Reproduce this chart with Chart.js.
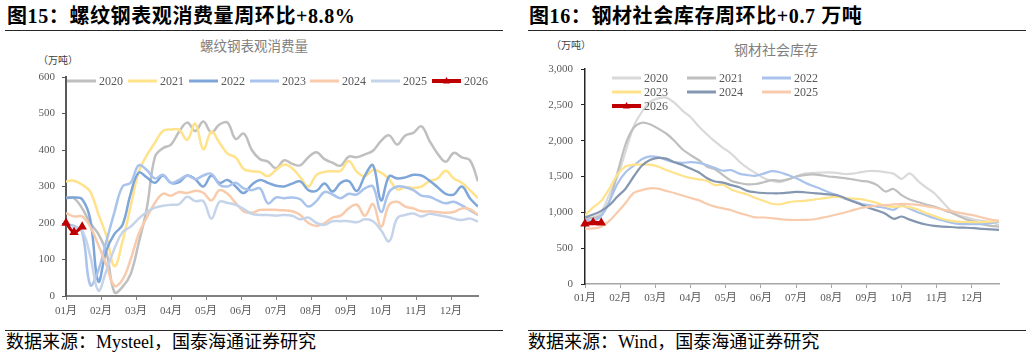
<!DOCTYPE html>
<html lang="zh">
<head>
<meta charset="UTF-8">
<title>螺纹钢表观消费量 / 钢材社会库存</title>
<script src="https://cdn.jsdelivr.net/npm/chart.js"></script>
<style>
  body { margin: 0; background: #fff; width: 1032px; height: 358px; overflow: hidden; position: relative; }
  canvas { position: absolute; top: 0; }
  .t { position: absolute; white-space: nowrap; line-height: 1; font-family: "Liberation Serif", "Noto Sans CJK SC", serif; }
  .fig { font-size: 20px; font-weight: bold; color: #000; top: 6px; letter-spacing: 0.6px; }
  .sub { font-size: 13.5px; color: #808080; }
  .unit { font-size: 10px; color: #404040; }
  .src { font-size: 18px; color: #000; top: 333px; }
  .rule { position: absolute; height: 1px; background: #262626; }
</style>
</head>
<body>
<div class="t fig" style="left:7px">图15：螺纹钢表观消费量周环比+8.8%</div>
<div class="rule" style="left:5px; width:498px; top:30px"></div>
<div class="t sub" style="left:154px; width:200px; text-align:center; top:40px">螺纹钢表观消费量</div>
<div class="t unit" style="left:38px; top:56px">（万吨）</div>
<div class="rule" style="left:5px; width:498px; top:330px"></div>
<div class="t src" style="left:6px">数据来源：Mysteel，国泰海通证券研究</div>

<div class="t fig" style="left:529px">图16：钢材社会库存周环比+0.7 万吨</div>
<div class="rule" style="left:528px; width:498px; top:30px"></div>
<div class="t sub" style="left:676px; width:200px; text-align:center; top:44px; font-size:14px">钢材社会库存</div>
<div class="t unit" style="left:551px; top:41px">（万吨）</div>
<div class="rule" style="left:528px; width:498px; top:330px"></div>
<div class="t src" style="left:528px">数据来源：Wind，国泰海通证券研究</div>

<canvas id="rebar" width="516" height="358" style="left:0"></canvas>
<canvas id="stock" width="516" height="358" style="left:516px"></canvas>

<script>
const MONTH_LABELS = ['01月','02月','03月','04月','05月','06月','07月','08月','09月','10月','11月','12月'];
const YEARS = ['2020','2021','2022','2023','2024','2025','2026'];

// 螺纹钢表观消费量 (万吨), weekly
const rebar2020 = [270,268,240,200,170,120,10,25,60,145,240,380,405,415,450,475,452,478,448,470,475,430,445,400,375,368,350,372,362,358,380,394,375,365,357,382,380,388,398,425,440,415,440,447,465,425,390,368,392,380,372,314];
const rebar2021 = [314,316,305,286,225,165,82,150,245,340,385,420,452,456,455,428,472,402,450,420,390,380,348,342,340,328,345,360,350,325,300,332,340,342,343,370,340,328,345,338,320,292,298,296,300,315,322,343,322,310,290,268];
const rebar2022 = [268,270,265,210,40,125,170,195,280,338,325,310,330,310,312,330,320,300,330,310,318,300,282,305,318,310,302,300,308,314,290,288,308,286,310,315,288,330,358,262,328,322,325,332,330,316,298,280,278,300,268,245];
const rebar2023 = [195,192,175,30,70,150,230,300,310,358,345,322,332,310,318,330,320,330,335,305,300,310,295,290,295,254,270,268,270,265,245,260,285,278,268,280,278,295,300,230,285,300,298,290,275,272,262,254,258,248,235,222];
const rebar2024 = [227,218,218,190,140,85,28,45,100,170,215,255,280,275,285,282,288,283,262,290,280,255,232,228,236,236,236,235,232,222,200,192,200,215,220,240,250,220,252,190,250,258,245,240,232,232,230,228,230,240,238,222];
const rebar2025 = [195,188,180,110,15,70,130,175,190,212,230,242,247,250,252,272,260,260,212,258,255,250,238,225,222,222,220,222,220,210,215,200,195,205,205,205,202,210,205,180,150,213,222,226,218,225,222,218,212,208,212,204];
const rebar2026 = [200,175,190];

// 钢材社会库存 (万吨), weekly
const stock2020 = [920,930,1000,1250,1500,1850,2200,2400,2540,2590,2600,2530,2420,2330,2200,2090,1990,1900,1820,1710,1620,1550,1480,1440,1420,1460,1500,1540,1550,1555,1558,1550,1535,1540,1560,1577,1575,1560,1540,1466,1544,1440,1350,1270,1150,1030,960,930,900,880,860,826];
const stock2021 = [930,920,960,1150,1550,1950,2180,2250,2230,2170,2100,2000,1880,1800,1730,1640,1600,1520,1440,1410,1390,1395,1420,1450,1440,1460,1500,1520,1530,1520,1500,1490,1478,1460,1440,1425,1380,1290,1326,1240,1180,1145,1110,1080,1040,1000,950,900,870,830,810,800];
const stock2022 = [900,880,950,1150,1400,1560,1650,1740,1780,1770,1730,1700,1690,1700,1690,1660,1620,1580,1590,1540,1520,1510,1540,1575,1560,1520,1480,1420,1370,1330,1280,1240,1190,1160,1120,1100,1080,1060,1035,1095,1050,1000,960,920,890,860,840,835,835,835,850,872];
const stock2023 = [960,1070,1160,1330,1530,1640,1665,1670,1665,1640,1590,1550,1510,1480,1460,1440,1380,1385,1320,1280,1250,1200,1160,1120,1110,1140,1155,1160,1175,1190,1205,1220,1200,1190,1185,1160,1130,1090,1075,1085,1070,1040,990,950,910,885,870,865,862,862,870,881];
const stock2024 = [930,970,1020,1100,1220,1330,1500,1650,1730,1760,1750,1700,1660,1610,1560,1480,1430,1415,1380,1350,1300,1280,1270,1266,1266,1275,1285,1280,1270,1260,1250,1240,1200,1150,1110,1060,1025,980,910,942,898,860,830,810,800,795,788,785,779,770,762,756];
const stock2025 = [770,775,800,880,1000,1130,1270,1310,1335,1330,1300,1270,1235,1200,1170,1120,1080,1055,1030,990,960,930,928,920,905,895,893,895,900,920,942,970,997,1030,1060,1080,1095,1100,1110,1118,1112,1104,1085,1067,1040,1020,997,975,955,925,900,881];
const stock2026 = [840,858,855];

const REBAR_COLORS = ['#bfbfbf','#ffe28a','#7fa6d8','#a9c3ec','#f8cbad','#c6d4ea','#c00000'];
const STOCK_COLORS = ['#d9d9d9','#bfbfbf','#a9c3ec','#ffe28a','#8496b0','#f8cbad','#c00000'];

const FONT = '"Liberation Serif", "Noto Sans CJK SC", serif';
const TEXT_GRAY = '#595959';

function toPoints(arr) { return arr.map((v, i) => ({ x: i, y: v })); }

function makeDatasets(series, colors, width, tension) {
  return series.map((arr, i) => {
    const last = i === series.length - 1;
    return {
      label: YEARS[i],
      data: toPoints(arr),
      borderColor: colors[i],
      backgroundColor: colors[i],
      borderWidth: last ? 3 : width,
      tension: tension,
      pointRadius: last ? 5.5 : 0,
      pointStyle: last ? 'triangle' : 'circle',
      pointBorderWidth: 0,
      clip: last ? false : undefined,
      order: series.length - 1 - i
    };
  });
}

// legend drawn at fixed spots inside the plot, like the original
const placedLegend = {
  id: 'placedLegend',
  afterDatasetsDraw(chart, args, opts) {
    const ctx = chart.ctx;
    ctx.save();
    chart.data.datasets.forEach((ds, i) => {
      const [x, y] = opts.spots[i];
      const tri = ds.pointStyle === 'triangle';
      ctx.strokeStyle = ds.borderColor;
      ctx.lineWidth = tri ? 4 : 3;
      ctx.beginPath();
      ctx.moveTo(x, y);
      ctx.lineTo(x + 29, y);
      ctx.stroke();
      if (tri) {
        const cx = x + 14.5;
        ctx.fillStyle = ds.borderColor;
        ctx.beginPath();
        ctx.moveTo(cx, y - 4);
        ctx.lineTo(cx + 3.5, y + 2.5);
        ctx.lineTo(cx - 3.5, y + 2.5);
        ctx.closePath();
        ctx.fill();
      }
      ctx.fillStyle = TEXT_GRAY;
      ctx.font = '12px ' + FONT;
      ctx.textBaseline = 'middle';
      ctx.fillText(ds.label, x + 32, y + 1);
    });
    ctx.restore();
  }
};

function makeOptions(cfg) {
  return {
    responsive: false,
    animation: false,
    devicePixelRatio: 1,
    layout: { padding: cfg.padding },
    plugins: {
      legend: { display: false },
      tooltip: { enabled: false },
      placedLegend: { spots: cfg.spots }
    },
    scales: {
      x: {
        type: 'linear',
        min: 0,
        max: 51,
        afterBuildTicks: s => { s.ticks = MONTH_LABELS.map((_, m) => ({ value: m * 52 / 12 })); },
        afterFit: s => { s.height = 30; },
        ticks: {
          autoSkip: false,
          maxRotation: 0,
          padding: cfg.xPad,
          color: TEXT_GRAY,
          font: { family: FONT, size: 11 },
          callback: (v, i) => MONTH_LABELS[i]
        },
        grid: { drawOnChartArea: false, tickLength: 4, color: cfg.xAxisColor, lineWidth: 1 },
        border: { color: cfg.xAxisColor, width: cfg.xAxisWidth }
      },
      y: {
        min: 0,
        max: cfg.yMax,
        afterFit: s => { s.width = cfg.yWidth; },
        ticks: {
          stepSize: cfg.yStep,
          padding: cfg.yPad,
          color: TEXT_GRAY,
          font: { family: FONT, size: 11 },
          callback: v => v.toLocaleString('en-US')
        },
        grid: { drawOnChartArea: false, tickLength: 4, color: cfg.yAxisColor, lineWidth: 1 },
        border: { color: cfg.yAxisColor, width: cfg.yAxisWidth }
      }
    }
  };
}

new Chart(document.getElementById('rebar'), {
  type: 'line',
  data: { datasets: makeDatasets([rebar2020, rebar2021, rebar2022, rebar2023, rebar2024, rebar2025, rebar2026], REBAR_COLORS, 2.5, 0.4) },
  options: makeOptions({
    padding: { left: 10, right: 38, top: 77, bottom: 32 },
    yWidth: 56, yMax: 600, yStep: 100, yPad: 7, xPad: 5,
    xAxisColor: '#808080', xAxisWidth: 2, yAxisColor: '#595959', yAxisWidth: 2,
    spots: [[67, 81], [128, 81], [189, 81], [250, 81], [310, 81], [371, 81], [432, 81]]
  }),
  plugins: [placedLegend]
});

new Chart(document.getElementById('stock'), {
  type: 'line',
  data: { datasets: makeDatasets([stock2020, stock2021, stock2022, stock2023, stock2024, stock2025, stock2026], STOCK_COLORS, 2.2, 0.3) },
  options: makeOptions({
    padding: { left: 10, right: 33, top: 69, bottom: 44 },
    yWidth: 59, yMax: 3000, yStep: 500, yPad: 8, xPad: 4,
    xAxisColor: '#a6a6a6', xAxisWidth: 1.5, yAxisColor: '#262626', yAxisWidth: 1.5,
    spots: [[96, 78], [171, 78], [246, 78], [96, 92], [171, 92], [246, 92], [96, 106]]
  }),
  plugins: [placedLegend]
});
</script>
</body>
</html>
